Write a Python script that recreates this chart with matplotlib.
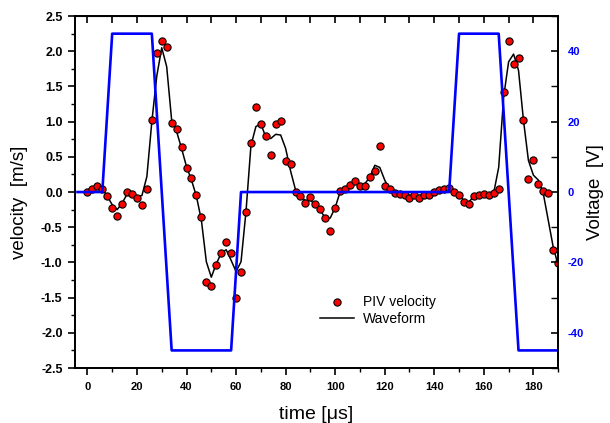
"""
PIV velocity vs. drive waveform, with the applied voltage on a twin axis.
Saves out.png (610 x 423 px).
"""

import numpy as np
import matplotlib
matplotlib.use("Agg")
import matplotlib.pyplot as plt
from matplotlib.ticker import MultipleLocator, FormatStrFormatter

plt.rcParams["font.family"] = ["Liberation Sans", "DejaVu Sans"]
plt.rcParams["axes.unicode_minus"] = False

# ── Data ──────────────────────────────────────────────────────────────────────
piv_time = np.arange(0, 192, 2)
piv_velocity = [
    0.00, 0.05, 0.09, 0.04, -0.05, -0.23, -0.34, -0.17, 0.00, -0.03,
    -0.08, -0.18, 0.05, 1.02, 1.97, 2.15, 2.06, 0.98, 0.89, 0.64,
    0.34, 0.20, -0.04, -0.36, -1.28, -1.34, -1.03, -0.86, -0.71, -0.87,
    -1.50, -1.14, -0.28, 0.69, 1.21, 0.96, 0.79, 0.52, 0.96, 1.01,
    0.44, 0.40, 0.00, -0.05, -0.16, -0.07, -0.17, -0.24, -0.37, -0.55,
    -0.22, 0.02, 0.05, 0.10, 0.16, 0.09, 0.08, 0.22, 0.30, 0.65,
    0.09, 0.04, -0.02, -0.03, -0.04, -0.08, -0.04, -0.08, -0.04, -0.04,
    0.00, 0.03, 0.05, 0.06, 0.00, -0.04, -0.14, -0.17, -0.06, -0.04,
    -0.03, -0.04, -0.01, 0.04, 1.42, 2.14, 1.82, 1.91, 1.02, 0.19,
    0.45, 0.11, 0.01, -0.01, -0.82, -1.01,
]

wave_time = np.arange(0, 192, 2)
wave_velocity = [
    0.00, 0.05, 0.08, 0.05, -0.06, -0.18, -0.25, -0.16, -0.03, -0.03,
    -0.06, -0.05, 0.22, 1.00, 1.65, 2.05, 1.78, 1.02, 0.86, 0.62,
    0.36, 0.17, -0.06, -0.40, -0.99, -1.21, -1.02, -0.87, -0.82, -0.97,
    -1.13, -0.99, -0.28, 0.66, 0.93, 0.97, 0.78, 0.76, 0.82, 0.81,
    0.62, 0.30, 0.03, -0.06, -0.12, -0.12, -0.18, -0.26, -0.37, -0.37,
    -0.22, 0.00, 0.05, 0.10, 0.13, 0.11, 0.12, 0.21, 0.38, 0.35,
    0.17, 0.03, -0.02, -0.03, -0.04, -0.05, -0.05, -0.05, -0.04, -0.03,
    -0.01, 0.02, 0.04, 0.05, 0.00, -0.05, -0.12, -0.14, -0.06, -0.04,
    -0.03, -0.03, -0.01, 0.35, 1.35, 1.85, 1.96, 1.73, 1.02, 0.45,
    0.24, 0.17, -0.02, -0.40, -0.78, -1.04,
]

volt_time  = [-4, 6, 10, 26, 34, 58, 62, 146, 150, 166, 174, 190]
volt_value = [0, 0, 45, 45, -45, -45, 0, 0, 45, 45, -45, -45]

# ── Figure ────────────────────────────────────────────────────────────────────
fig = plt.figure(figsize=(6.1, 4.23), dpi=100)
ax = fig.add_axes([0.123, 0.130, 0.792, 0.832])

ax.plot(wave_time, wave_velocity, color="black", linewidth=1.1, label="Waveform", zorder=2)
ax.plot(piv_time, piv_velocity, linestyle="none", marker="o", markersize=5.2,
        markerfacecolor="#ff0000", markeredgecolor="black", markeredgewidth=0.8,
        label="PIV velocity", zorder=3)

ax.set_xlim(-5, 190)
ax.set_ylim(-2.5, 2.5)
ax.xaxis.set_major_locator(MultipleLocator(20))
ax.xaxis.set_minor_locator(MultipleLocator(10))
ax.yaxis.set_major_locator(MultipleLocator(0.5))
ax.yaxis.set_minor_locator(MultipleLocator(0.25))
ax.yaxis.set_major_formatter(FormatStrFormatter("%.1f"))
ax.tick_params(which="major", direction="out", length=5, width=1.2,
               labelsize=8, pad=5)
ax.tick_params(axis="y", which="major", labelsize=9, pad=4)
ax.tick_params(which="minor", direction="out", length=3, width=1.0)
for lbl in ax.get_xticklabels() + ax.get_yticklabels():
    lbl.set_fontweight("bold")

ax.set_xlabel("time [μs]", fontsize=14, labelpad=10)
ax.set_ylabel("velocity  [m/s]", fontsize=13.5)
ax.yaxis.set_label_coords(-0.097, 0.47)
for spine in ax.spines.values():
    spine.set_linewidth(1.3)

# top ticks pointing inward, no labels
top = ax.secondary_xaxis("top")
top.xaxis.set_major_locator(MultipleLocator(10))
top.tick_params(direction="in", length=5, width=1.2, labeltop=False)

# ── Voltage on twin axis ──────────────────────────────────────────────────────
ax2 = ax.twinx()
ax2.plot(volt_time, volt_value, color="#0000ff", linewidth=1.9)
ax2.set_ylim(-50, 50)
ax2.yaxis.set_major_locator(MultipleLocator(20))
ax2.yaxis.set_minor_locator(MultipleLocator(10))
ax2.tick_params(which="major", direction="in", length=5, width=1.2,
                labelsize=8, labelcolor="#0000ff", pad=7)
ax2.tick_params(which="minor", direction="in", length=5, width=1.0)
for lbl in ax2.get_yticklabels():
    lbl.set_fontweight("bold")
ax2.set_ylabel("Voltage  [V]", fontsize=13.5, labelpad=2)
for spine in ax2.spines.values():
    spine.set_linewidth(1.3)

handles, labels = ax.get_legend_handles_labels()
ax.legend(handles[::-1], labels[::-1], loc="upper left",
          bbox_to_anchor=(0.495, 0.222), frameon=False, fontsize=10,
          handlelength=2.5, handletextpad=0.6, labelspacing=0.15,
          borderaxespad=0)

fig.savefig("out.png", dpi=100)
